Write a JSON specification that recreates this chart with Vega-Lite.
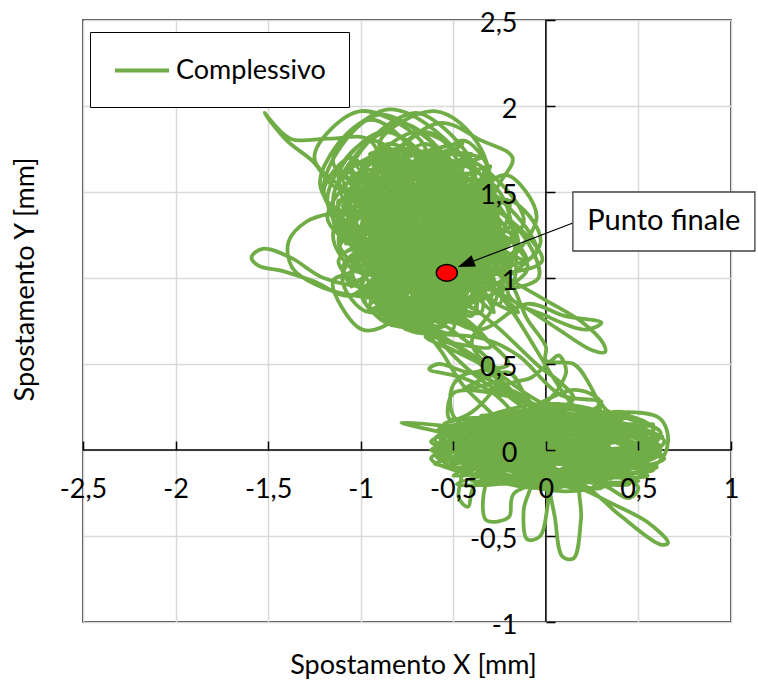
{
"$schema": "https://vega.github.io/schema/vega-lite/v6.json",
"width": 648, "height": 602,
"autosize": {"type": "none"},
"padding": {"left": 83, "top": 20, "right": 27, "bottom": 61},
"background": "white",
"config": {"font": "Lato", "view": {"stroke": "black", "strokeWidth": 1.5}},
"resolve": {"axis": {"x": "independent", "y": "independent"}},
"layer": [
{
"data": {"values": [{"x": 0, "y": -1, "x2": 0, "y2": 2.5}, {"x": -2.5, "y": 0, "x2": 1, "y2": 0}]},
"mark": {"type": "rule", "color": "black", "strokeWidth": 1.5},
"encoding": {
"x": {"field": "x", "type": "quantitative", "scale": {"domain": [-2.5, 1], "nice": false, "zero": false},
 "axis": {"orient": "bottom", "values": [-2.5, -2, -1.5, -1, -0.5, 0, 0.5, 1], "grid": true, "gridColor": "#d9d9d9", "gridWidth": 1.5, "labels": false, "ticks": false, "domain": false, "title": null, "zindex": 0}},
"y": {"field": "y", "type": "quantitative", "scale": {"domain": [-1, 2.5], "nice": false, "zero": false},
 "axis": {"orient": "left", "values": [-1, -0.5, 0, 0.5, 1, 1.5, 2, 2.5], "grid": true, "gridColor": "#d9d9d9", "gridWidth": 1.5, "labels": false, "ticks": false, "domain": false, "title": null, "zindex": 0}},
"x2": {"field": "x2"}, "y2": {"field": "y2"}
}
},
{
"data": {"values": [
{"x":0.00,"y":0.00},{"x":0.30,"y":0.00},{"x":0.00,"y":0.15},{"x":-0.30,"y":0.00},{"x":0.00,"y":-0.15},
{"x":0.55,"y":0.02},{"x":0.05,"y":0.20},{"x":-0.45,"y":0.02},{"x":0.05,"y":-0.16},
{"x":-0.15,"y":0.00},{"x":-0.30,"y":0.10},{"x":-0.45,"y":0.00},{"x":-0.30,"y":-0.10},
{"x":-0.08,"y":-0.15},{"x":-0.12,"y":-0.35},{"x":-0.10,"y":-0.52},{"x":-0.03,"y":-0.50},{"x":0.01,"y":-0.32},{"x":0.03,"y":-0.15},
{"x":0.35,"y":0.00},{"x":-0.10,"y":0.15},{"x":-0.55,"y":0.00},{"x":-0.10,"y":-0.15},
{"x":0.15,"y":0.02},{"x":0.00,"y":0.12},{"x":-0.15,"y":0.02},{"x":0.00,"y":-0.08},
{"x":0.50,"y":0.05},{"x":0.10,"y":0.24},{"x":-0.30,"y":0.05},{"x":0.10,"y":-0.14},
{"x":0.02,"y":-0.12},{"x":0.05,"y":-0.40},{"x":0.09,"y":-0.62},{"x":0.15,"y":-0.63},{"x":0.19,"y":-0.40},{"x":0.20,"y":-0.15},
{"x":0.62,"y":-0.02},{"x":0.00,"y":0.18},{"x":-0.60,"y":-0.02},{"x":0.00,"y":-0.22},
{"x":0.45,"y":0.00},{"x":0.30,"y":0.10},{"x":0.15,"y":0.00},{"x":0.30,"y":-0.10},
{"x":0.15,"y":0.05},{"x":-0.20,"y":0.17},{"x":-0.55,"y":0.05},{"x":-0.20,"y":-0.08},
{"x":-0.30,"y":-0.15},{"x":-0.34,"y":-0.30},{"x":-0.32,"y":-0.41},{"x":-0.20,"y":-0.39},{"x":-0.17,"y":-0.25},
{"x":0.55,"y":-0.05},{"x":0.20,"y":0.10},{"x":-0.15,"y":-0.05},{"x":0.20,"y":-0.20},
{"x":0.40,"y":-0.38},{"x":0.62,"y":-0.55},{"x":0.66,"y":-0.54},{"x":0.55,"y":-0.42},{"x":0.30,"y":-0.28},{"x":0.10,"y":-0.15},
{"x":0.55,"y":0.06},{"x":0.00,"y":0.22},{"x":-0.52,"y":0.05},{"x":0.00,"y":-0.12},
{"x":0.00,"y":0.10},{"x":-0.15,"y":0.18},{"x":-0.30,"y":0.10},
{"x":-0.55,"y":0.14},{"x":-0.78,"y":0.16},{"x":-0.55,"y":0.10},{"x":-0.30,"y":0.05},
{"x":0.40,"y":-0.08},{"x":0.05,"y":0.08},{"x":-0.35,"y":-0.08},{"x":0.05,"y":-0.22},
{"x":0.30,"y":-0.08},{"x":0.15,"y":0.00},{"x":0.00,"y":-0.08},{"x":0.15,"y":-0.16},
{"x":0.64,"y":0.05},{"x":0.25,"y":0.18},{"x":-0.10,"y":0.05},{"x":0.25,"y":-0.10},
{"x":0.60,"y":0.05},{"x":0.45,"y":0.15},{"x":0.30,"y":0.05},{"x":0.45,"y":-0.05},
{"x":0.62,"y":0.10},{"x":0.33,"y":0.23},{"x":0.27,"y":0.31},{"x":0.15,"y":0.35},{"x":0.00,"y":0.29},{"x":-0.15,"y":0.20},
{"x":-0.50,"y":0.00},{"x":-0.15,"y":-0.12},{"x":0.20,"y":0.02},{"x":-0.15,"y":0.12},
{"x":-0.33,"y":0.05},{"x":-0.45,"y":0.15},{"x":-0.57,"y":0.05},{"x":-0.45,"y":-0.05},
{"x":-0.47,"y":-0.28},{"x":-0.42,"y":-0.33},{"x":-0.38,"y":-0.20},
{"x":0.45,"y":0.10},{"x":0.05,"y":0.25},{"x":-0.40,"y":0.08},{"x":0.05,"y":-0.08},
{"x":-0.55,"y":0.05},{"x":0.50,"y":-0.10},{"x":-0.45,"y":0.18},{"x":0.60,"y":0.08},{"x":-0.50,"y":-0.15},{"x":0.45,"y":0.20},{"x":-0.60,"y":-0.02},{"x":0.55,"y":-0.15},
{"x":-0.35,"y":0.20},{"x":0.62,"y":0.02},{"x":-0.40,"y":-0.18},{"x":0.40,"y":0.15},{"x":-0.58,"y":0.12},{"x":0.50,"y":-0.18},{"x":-0.30,"y":-0.12},{"x":0.58,"y":0.15},
{"x":-0.52,"y":-0.08},{"x":0.35,"y":0.22},{"x":-0.62,"y":0.05},{"x":0.45,"y":-0.20},{"x":-0.25,"y":0.18},{"x":0.64,"y":-0.05},{"x":-0.48,"y":-0.20},{"x":0.52,"y":0.12},
{"x":-0.55,"y":0.15},{"x":0.30,"y":-0.20},{"x":-0.40,"y":0.05},{"x":0.60,"y":-0.10},{"x":-0.20,"y":-0.18},{"x":0.42,"y":0.22},{"x":-0.58,"y":-0.05},{"x":0.55,"y":0.05},
{"x":-0.05,"y":0.20},{"x":-0.20,"y":0.31},{"x":-0.34,"y":0.40},{"x":-0.50,"y":0.55},{"x":-0.62,"y":0.70},{"x":-0.72,"y":0.85},
{"x":-1.10,"y":1.50},{"x":-0.30,"y":1.00},{"x":-0.80,"y":1.68},{"x":-0.55,"y":0.72},{"x":-1.12,"y":1.10},{"x":-0.28,"y":1.40},{"x":-0.95,"y":0.82},{"x":-0.45,"y":1.65},
{"x":-1.05,"y":1.30},{"x":-0.35,"y":0.80},{"x":-0.65,"y":1.70},{"x":-0.80,"y":0.72},{"x":-0.25,"y":1.20},{"x":-1.00,"y":1.62},{"x":-0.60,"y":0.70},{"x":-0.30,"y":1.55},
{"x":-1.08,"y":1.20},{"x":-0.42,"y":1.68},{"x":-0.62,"y":0.75},{"x":-1.12,"y":1.45},{"x":-0.25,"y":1.10},{"x":-0.88,"y":1.70},{"x":-0.85,"y":0.75},{"x":-0.32,"y":1.45},
{"x":-1.05,"y":0.98},{"x":-0.55,"y":1.72},{"x":-0.40,"y":0.78},{"x":-1.10,"y":1.60},{"x":-0.28,"y":1.28},{"x":-0.75,"y":0.70},{"x":-0.95,"y":1.68},{"x":-0.33,"y":0.92},
{"x":-1.00,"y":1.40},{"x":-0.50,"y":0.74},{"x":-0.70,"y":1.68},{"x":-0.27,"y":1.05},{"x":-1.12,"y":1.25},{"x":-0.40,"y":1.60},{"x":-0.90,"y":0.78},{"x":-0.58,"y":1.70},
{"x":-0.30,"y":0.88},{"x":-1.08,"y":1.55},{"x":-0.68,"y":0.72},{"x":-0.26,"y":1.35},{"x":-1.02,"y":1.05},{"x":-0.48,"y":1.66},{"x":-0.82,"y":0.74},{"x":-0.36,"y":1.50},
{"x":-1.10,"y":1.35},{"x":-0.45,"y":0.76},{"x":-0.78,"y":1.70},{"x":-0.30,"y":1.15},{"x":-1.00,"y":0.90},{"x":-0.52,"y":1.68},{"x":-0.58,"y":0.72},{"x":-1.08,"y":1.48},
{"x":-0.28,"y":0.98},{"x":-0.92,"y":1.66},{"x":-0.72,"y":0.70},{"x":-0.30,"y":1.50},{"x":-1.12,"y":1.15},{"x":-0.62,"y":1.70},{"x":-0.38,"y":0.82},{"x":-1.02,"y":1.58},
{"x":-0.35,"y":1.25},{"x":-0.80,"y":1.75},{"x":-1.05,"y":1.25},{"x":-0.60,"y":0.75},
{"x":-0.80,"y":1.00},{"x":-0.95,"y":1.20},{"x":-1.10,"y":1.00},{"x":-0.95,"y":0.80},
{"x":-0.45,"y":1.32},{"x":-0.85,"y":1.78},{"x":-1.10,"y":1.30},{"x":-0.66,"y":0.86},
{"x":-0.62,"y":1.15},{"x":-0.80,"y":1.37},{"x":-0.98,"y":1.15},{"x":-0.80,"y":0.93},
{"x":-0.25,"y":1.18},{"x":-0.75,"y":1.72},{"x":-1.00,"y":1.20},{"x":-0.52,"y":0.68},
{"x":-0.50,"y":1.00},{"x":-0.65,"y":1.20},{"x":-0.80,"y":1.00},{"x":-0.65,"y":0.80},
{"x":-0.40,"y":1.40},{"x":-0.78,"y":1.90},{"x":-1.15,"y":1.45},{"x":-0.75,"y":0.95},
{"x":-0.35,"y":1.10},{"x":-0.50,"y":1.30},{"x":-0.65,"y":1.10},{"x":-0.50,"y":0.90},
{"x":-0.30,"y":1.10},{"x":-0.68,"y":1.55},{"x":-0.95,"y":1.10},{"x":-0.58,"y":0.72},
{"x":-0.50,"y":1.35},{"x":-0.85,"y":1.70},{"x":-1.18,"y":1.35},{"x":-0.82,"y":1.00},
{"x":-0.95,"y":0.95},{"x":-1.20,"y":1.00},{"x":-1.38,"y":1.12},{"x":-1.53,"y":1.17},{"x":-1.59,"y":1.12},{"x":-1.55,"y":1.07},{"x":-1.42,"y":1.04},{"x":-1.25,"y":0.98},{"x":-1.05,"y":0.90},
{"x":-0.72,"y":1.40},{"x":-0.90,"y":1.62},{"x":-1.08,"y":1.40},{"x":-0.90,"y":1.18},
{"x":-0.20,"y":1.05},{"x":-0.60,"y":1.50},{"x":-0.90,"y":1.05},{"x":-0.50,"y":0.75},
{"x":-0.57,"y":1.35},{"x":-0.72,"y":1.55},{"x":-0.87,"y":1.35},{"x":-0.72,"y":1.15},
{"x":-0.42,"y":1.50},{"x":-0.90,"y":1.95},{"x":-1.20,"y":1.50},{"x":-0.70,"y":1.05},
{"x":-0.37,"y":1.40},{"x":-0.55,"y":1.62},{"x":-0.73,"y":1.40},{"x":-0.55,"y":1.18},
{"x":-0.30,"y":1.05},{"x":0.00,"y":0.87},{"x":0.20,"y":0.74},{"x":0.31,"y":0.62},{"x":0.32,"y":0.57},{"x":0.25,"y":0.58},{"x":0.07,"y":0.70},{"x":-0.10,"y":0.82},{"x":-0.30,"y":0.95},
{"x":-0.55,"y":1.20},{"x":-0.78,"y":1.45},{"x":-1.00,"y":1.20},{"x":-0.76,"y":0.92},
{"x":-0.15,"y":1.20},{"x":-0.62,"y":1.68},{"x":-0.95,"y":1.25},{"x":-0.48,"y":0.80},
{"x":-0.65,"y":1.65},{"x":-0.85,"y":1.85},{"x":-1.05,"y":1.65},{"x":-0.85,"y":1.45},
{"x":-0.95,"y":1.80},{"x":-1.17,"y":1.81},{"x":-1.38,"y":1.81},{"x":-1.52,"y":1.96},{"x":-1.40,"y":1.80},{"x":-1.26,"y":1.68},{"x":-1.12,"y":1.52},
{"x":-0.38,"y":1.60},{"x":-0.70,"y":1.96},{"x":-1.05,"y":1.62},{"x":-0.72,"y":1.22},
{"x":-0.48,"y":1.05},{"x":-0.75,"y":1.35},{"x":-1.02,"y":1.05},{"x":-1.15,"y":0.98},{"x":-0.99,"y":0.70},{"x":-0.80,"y":0.78},
{"x":-0.47,"y":1.65},{"x":-0.65,"y":1.85},{"x":-0.83,"y":1.65},{"x":-0.65,"y":1.45},
{"x":-0.10,"y":1.10},{"x":-0.55,"y":1.60},{"x":-0.85,"y":1.15},{"x":-0.40,"y":0.72},
{"x":-0.45,"y":0.75},{"x":-0.20,"y":0.50},{"x":-0.35,"y":0.45},{"x":-0.10,"y":0.30},{"x":-0.30,"y":0.35},{"x":-0.15,"y":0.40},
{"x":-0.08,"y":0.42},{"x":0.03,"y":0.52},{"x":0.07,"y":0.55},{"x":0.11,"y":0.46},{"x":0.07,"y":0.36},{"x":0.00,"y":0.25},{"x":0.10,"y":0.12},
{"x":0.60,"y":-0.10},{"x":0.25,"y":0.02},{"x":-0.10,"y":-0.10},{"x":0.25,"y":-0.22},
{"x":0.30,"y":0.10},{"x":0.15,"y":0.18},{"x":0.00,"y":0.10},{"x":0.15,"y":0.02},
{"x":0.25,"y":-0.05},{"x":-0.10,"y":0.10},{"x":-0.45,"y":-0.05},{"x":-0.10,"y":-0.20},
{"x":0.50,"y":0.00},{"x":0.00,"y":0.16},{"x":-0.48,"y":0.00},{"x":0.00,"y":-0.17},
{"x":0.30,"y":-0.20},{"x":0.45,"y":-0.28},{"x":0.50,"y":-0.22},{"x":0.40,"y":-0.12},
{"x":0.58,"y":0.12},{"x":0.30,"y":0.22},{"x":0.00,"y":0.12},{"x":0.30,"y":0.00},
{"x":0.05,"y":0.08},{"x":-0.28,"y":0.18},{"x":-0.60,"y":0.06},{"x":-0.28,"y":-0.05},
{"x":0.00,"y":-0.10},{"x":-0.15,"y":-0.02},{"x":-0.30,"y":-0.10},{"x":-0.15,"y":-0.18},
{"x":0.62,"y":0.00},{"x":0.20,"y":0.15},{"x":-0.25,"y":0.00},{"x":0.20,"y":-0.16},
{"x":0.60,"y":-0.08},{"x":0.66,"y":0.05},{"x":0.62,"y":0.18},{"x":0.45,"y":0.22},
{"x":0.00,"y":0.14},{"x":-0.35,"y":0.03},{"x":0.00,"y":-0.08},{"x":0.35,"y":0.05},
{"x":-0.30,"y":0.10},{"x":0.25,"y":-0.15},{"x":-0.50,"y":0.00},{"x":0.35,"y":0.18},{"x":-0.15,"y":-0.20},{"x":0.62,"y":-0.02},{"x":-0.45,"y":0.15},{"x":0.15,"y":-0.10},
{"x":-0.60,"y":-0.08},{"x":0.48,"y":0.10},{"x":-0.10,"y":0.22},{"x":0.30,"y":-0.22},{"x":-0.52,"y":0.08},{"x":0.58,"y":-0.12},{"x":-0.25,"y":-0.08},{"x":0.20,"y":0.20},
{"x":-0.42,"y":-0.14},{"x":0.52,"y":0.16},{"x":-0.08,"y":-0.16},{"x":0.40,"y":-0.05},{"x":-0.56,"y":0.12},{"x":0.10,"y":0.15},{"x":-0.35,"y":-0.20},{"x":0.63,"y":0.08},
{"x":-0.20,"y":0.05},{"x":0.45,"y":-0.16},{"x":-0.62,"y":0.00},{"x":0.28,"y":0.12},
{"x":0.10,"y":0.00},{"x":-0.30,"y":-0.12},{"x":0.10,"y":-0.24},
{"x":0.55,"y":-0.12},{"x":0.40,"y":-0.04},{"x":0.25,"y":-0.12},{"x":0.40,"y":-0.20},
{"x":0.40,"y":0.15},{"x":0.00,"y":0.27},{"x":-0.40,"y":0.14},{"x":0.00,"y":0.02},
{"x":-0.30,"y":0.05},{"x":-0.50,"y":0.20},{"x":-0.50,"y":0.38},{"x":-0.40,"y":0.45},{"x":-0.20,"y":0.33},{"x":0.00,"y":0.20},
{"x":0.64,"y":-0.05},{"x":0.35,"y":0.08},{"x":0.05,"y":-0.05},{"x":0.35,"y":-0.17},
{"x":0.10,"y":-0.05},{"x":-0.25,"y":0.07},{"x":-0.62,"y":-0.05},{"x":-0.25,"y":-0.16},
{"x":0.55,"y":0.04},{"x":0.10,"y":0.18},{"x":-0.40,"y":0.04},{"x":0.10,"y":-0.12},
{"x":0.30,"y":0.10},{"x":-0.05,"y":0.20},{"x":-0.42,"y":0.10},{"x":-0.05,"y":-0.02},
{"x":-0.25,"y":0.30},{"x":-0.45,"y":0.42},{"x":-0.63,"y":0.47},{"x":-0.58,"y":0.50},{"x":-0.40,"y":0.45},{"x":-0.30,"y":0.50},{"x":-0.45,"y":0.65},{"x":-0.60,"y":0.75},
{"x":-0.79,"y":0.74},{"x":-0.48,"y":0.60},{"x":-0.19,"y":0.35},{"x":-0.02,"y":0.23},{"x":0.10,"y":0.20},{"x":-0.10,"y":0.27},{"x":-0.34,"y":0.51},{"x":-0.61,"y":0.70},
{"x":-0.70,"y":0.80},{"x":-0.45,"y":0.85},{"x":-0.29,"y":0.74},{"x":-0.03,"y":0.48},{"x":0.06,"y":0.41},{"x":0.15,"y":0.30},{"x":0.05,"y":0.25},{"x":-0.20,"y":0.40},
{"x":-0.40,"y":0.62},{"x":-0.30,"y":0.80},{"x":-0.21,"y":0.99},{"x":-0.10,"y":0.76},{"x":0.00,"y":0.60},{"x":0.00,"y":0.52},{"x":0.15,"y":0.50},{"x":0.22,"y":0.41},
{"x":0.29,"y":0.21},{"x":0.15,"y":0.18},{"x":-0.15,"y":0.30},{"x":-0.50,"y":0.33},{"x":-0.52,"y":0.18},{"x":-0.40,"y":0.22},{"x":-0.25,"y":0.45},{"x":-0.55,"y":0.60},
{"x":-0.65,"y":0.66},{"x":-0.35,"y":0.65},{"x":-0.15,"y":0.55},{"x":0.08,"y":0.32},{"x":0.30,"y":0.28},{"x":0.20,"y":0.22},
{"x":-0.25,"y":0.90},{"x":-0.45,"y":1.05},{"x":-0.65,"y":0.90},{"x":-0.45,"y":0.75},
{"x":-0.60,"y":1.55},{"x":-0.95,"y":1.92},{"x":-1.22,"y":1.55},{"x":-0.90,"y":1.18},
{"x":-0.90,"y":1.45},{"x":-1.11,"y":1.39},{"x":-1.29,"y":1.33},{"x":-1.39,"y":1.21},{"x":-1.37,"y":1.06},{"x":-1.24,"y":0.96},{"x":-1.05,"y":0.90},
{"x":-0.62,"y":0.88},{"x":-0.80,"y":1.03},{"x":-0.98,"y":0.88},{"x":-0.80,"y":0.73},
{"x":-0.03,"y":1.20},{"x":-0.20,"y":1.45},{"x":-0.40,"y":1.20},{"x":-0.20,"y":0.95},
{"x":-0.35,"y":0.95},{"x":-0.65,"y":1.25},{"x":-0.92,"y":0.90},{"x":-0.60,"y":0.70},
{"x":-0.28,"y":1.45},{"x":-0.70,"y":1.85},{"x":-1.08,"y":1.40},{"x":-0.65,"y":0.98},
{"x":-0.04,"y":1.00},{"x":-0.18,"y":1.30},{"x":-0.35,"y":1.05},{"x":-0.15,"y":0.80},
{"x":-0.85,"y":1.25},{"x":-1.00,"y":1.47},{"x":-1.15,"y":1.25},{"x":-1.00,"y":1.03},
{"x":-0.55,"y":1.30},{"x":-0.72,"y":1.52},{"x":-0.92,"y":1.28},{"x":-0.70,"y":1.05},
{"x":-0.05,"y":1.15},{"x":-0.45,"y":1.58},{"x":-0.80,"y":1.10},{"x":-0.38,"y":0.70},
{"x":-0.10,"y":0.85},{"x":0.10,"y":0.78},{"x":0.30,"y":0.74},{"x":0.22,"y":0.70},{"x":0.00,"y":0.78},{"x":-0.20,"y":0.90},
{"x":-0.17,"y":1.25},{"x":-0.35,"y":1.50},{"x":-0.53,"y":1.25},{"x":-0.35,"y":1.00},
{"x":-0.05,"y":1.35},{"x":-0.22,"y":1.60},{"x":-0.42,"y":1.35},{"x":-0.22,"y":1.10},
{"x":-0.45,"y":1.70},{"x":-0.85,"y":1.98},{"x":-1.15,"y":1.68},{"x":-0.78,"y":1.35},
{"x":-0.62,"y":0.95},{"x":-0.82,"y":1.15},{"x":-1.00,"y":0.92},{"x":-0.80,"y":0.72},
{"x":-0.30,"y":1.30},{"x":-0.62,"y":1.62},{"x":-0.90,"y":1.30},{"x":-0.60,"y":0.95},
{"x":-0.48,"y":1.22},{"x":-0.60,"y":1.37},{"x":-0.72,"y":1.22},{"x":-0.60,"y":1.07},
{"x":-0.50,"y":1.45},{"x":-0.75,"y":1.72},{"x":-1.00,"y":1.45},{"x":-0.75,"y":1.15},
{"x":-0.66,"y":1.50},{"x":-0.78,"y":1.65},{"x":-0.90,"y":1.50},{"x":-0.78,"y":1.35},
{"x":-1.05,"y":1.55},{"x":-0.35,"y":1.70},{"x":-0.95,"y":1.72},{"x":-0.30,"y":1.40},{"x":-1.00,"y":1.45},{"x":-0.50,"y":1.75},{"x":-0.85,"y":1.40},{"x":-0.25,"y":1.30},
{"x":-0.75,"y":1.75},{"x":-1.08,"y":1.60},{"x":-0.40,"y":1.45},{"x":-0.90,"y":1.75},{"x":-0.60,"y":1.40},{"x":-0.30,"y":1.65},{"x":-1.00,"y":1.35},{"x":-0.65,"y":1.78},
{"x":-0.22,"y":1.15},{"x":-0.45,"y":1.60},{"x":-0.70,"y":1.50},{"x":-0.25,"y":0.95},{"x":-0.50,"y":1.30},{"x":-0.20,"y":1.45},{"x":-0.40,"y":0.85},{"x":-0.30,"y":1.25},
{"x":-0.55,"y":1.55},{"x":-0.22,"y":1.05},{"x":-0.45,"y":1.20},{"x":-0.28,"y":0.80},{"x":-0.60,"y":1.25},{"x":-0.18,"y":1.25},{"x":-0.42,"y":1.00},{"x":-0.35,"y":1.65},
{"x":-0.85,"y":1.55},{"x":-0.40,"y":1.72},{"x":-1.02,"y":1.65},{"x":-0.55,"y":1.45},{"x":-0.95,"y":1.60},{"x":-0.45,"y":1.78},{"x":-0.78,"y":1.55},{"x":-0.30,"y":1.55},
{"x":-0.70,"y":1.60},{"x":-1.10,"y":1.42},{"x":-0.62,"y":1.70},{"x":-0.25,"y":1.50},
{"x":-0.18,"y":0.98},{"x":-0.45,"y":1.25},{"x":-0.72,"y":0.95},{"x":-0.42,"y":0.75},
{"x":-0.30,"y":0.60},{"x":-0.55,"y":0.62},{"x":-0.25,"y":0.42},{"x":-0.45,"y":0.35},{"x":-0.20,"y":0.45},{"x":-0.10,"y":0.30},{"x":0.05,"y":0.15},
{"x":0.50,"y":0.10},{"x":0.10,"y":0.20},{"x":-0.35,"y":0.12},{"x":0.05,"y":-0.05},
{"x":0.58,"y":-0.02},{"x":0.20,"y":0.12},{"x":-0.20,"y":0.00},{"x":0.20,"y":-0.14},
{"x":0.35,"y":0.15},{"x":0.00,"y":0.24},{"x":-0.50,"y":0.10},{"x":-0.10,"y":-0.06},
{"x":0.45,"y":-0.06},{"x":0.10,"y":0.06},{"x":-0.30,"y":-0.04},{"x":0.05,"y":-0.18},
{"x":-0.15,"y":0.05},{"x":-0.30,"y":0.22},{"x":-0.45,"y":0.38},{"x":-0.55,"y":0.55},{"x":-0.65,"y":0.72},
{"x":-0.70,"y":1.20},{"x":-0.30,"y":1.60},{"x":-1.05,"y":0.95},{"x":-0.50,"y":1.45},{"x":-0.90,"y":1.55},{"x":-0.40,"y":0.90},{"x":-0.85,"y":1.00},{"x":-0.60,"y":1.60},
{"x":-1.10,"y":1.30},{"x":-0.35,"y":1.25},{"x":-0.75,"y":0.80},{"x":-0.95,"y":1.45},{"x":-0.45,"y":1.05},{"x":-0.80,"y":1.65},{"x":-0.55,"y":0.85},{"x":-1.05,"y":1.20},
{"x":-0.40,"y":1.40},{"x":-0.65,"y":0.72},{"x":-1.00,"y":1.50},{"x":-0.30,"y":1.10},{"x":-0.85,"y":0.85},{"x":-0.55,"y":1.68},{"x":-0.70,"y":0.95},{"x":-1.08,"y":1.40},
{"x":-0.35,"y":1.00},{"x":-0.75,"y":1.60},{"x":-0.92,"y":0.95},{"x":-0.45,"y":1.55},{"x":-0.62,"y":0.80},{"x":-1.00,"y":1.15},{"x":-0.32,"y":1.30},{"x":-0.85,"y":1.62},
{"x":-0.50,"y":0.78},{"x":-1.10,"y":1.05},{"x":-0.40,"y":1.50},{"x":-0.95,"y":0.80},{"x":-0.65,"y":1.55},{"x":-0.28,"y":0.95},{"x":-0.90,"y":1.25},{"x":-0.55,"y":1.62},
{"x":-0.75,"y":0.75},{"x":-1.05,"y":1.45},{"x":-0.35,"y":1.15},{"x":-0.70,"y":1.70},{"x":-0.60,"y":0.90},{"x":-1.08,"y":1.00},{"x":-0.45,"y":1.35},{"x":-0.82,"y":1.52},
{"x":-0.65,"y":1.75},{"x":-1.00,"y":1.97},{"x":-1.25,"y":1.70},{"x":-0.95,"y":1.40},
{"x":-0.55,"y":0.82},{"x":-0.70,"y":0.94},{"x":-0.85,"y":0.82},{"x":-0.70,"y":0.70},
{"x":-0.40,"y":1.15},{"x":-0.70,"y":1.42},{"x":-0.98,"y":1.15},{"x":-0.68,"y":0.85},
{"x":-0.25,"y":1.55},{"x":-0.18,"y":1.70},{"x":-0.35,"y":1.80},{"x":-0.58,"y":1.90},{"x":-0.92,"y":1.55},{"x":-0.58,"y":1.20},
{"x":-0.90,"y":1.50},{"x":-1.05,"y":1.70},{"x":-1.20,"y":1.50},{"x":-1.05,"y":1.30},
{"x":-0.70,"y":1.25},{"x":-0.90,"y":1.45},{"x":-1.12,"y":1.22},{"x":-0.90,"y":1.00},
{"x":-0.12,"y":1.32},{"x":-0.50,"y":1.72},{"x":-0.85,"y":1.30},{"x":-0.45,"y":0.92},
{"x":-0.30,"y":1.60},{"x":-0.45,"y":1.80},{"x":-0.60,"y":1.60},{"x":-0.45,"y":1.40},
{"x":-0.55,"y":1.05},{"x":-0.80,"y":1.30},{"x":-1.05,"y":1.05},{"x":-0.78,"y":0.78},
{"x":-0.10,"y":1.05},{"x":-0.25,"y":1.25},{"x":-0.40,"y":1.05},{"x":-0.25,"y":0.85},
{"x":-0.35,"y":1.75},{"x":-0.60,"y":1.97},{"x":-0.90,"y":1.78},{"x":-0.62,"y":1.50},
{"x":-0.45,"y":0.88},{"x":-0.68,"y":1.10},{"x":-0.90,"y":0.85},{"x":-0.65,"y":0.68},
{"x":-0.22,"y":1.22},{"x":-0.58,"y":1.52},{"x":-0.88,"y":1.18},{"x":-0.55,"y":0.88},
{"x":-0.78,"y":1.10},{"x":-0.90,"y":1.25},{"x":-1.02,"y":1.10},{"x":-0.90,"y":0.95},
{"x":-0.60,"y":1.60},{"x":-0.88,"y":1.85},{"x":-1.12,"y":1.58},{"x":-0.85,"y":1.30},
{"x":-0.30,"y":1.02},{"x":-0.55,"y":1.28},{"x":-0.80,"y":1.00},{"x":-0.55,"y":0.75},
{"x":-0.45,"y":1.38},{"x":-0.80,"y":1.65},{"x":-1.15,"y":1.35},{"x":-0.80,"y":1.05},
{"x":-0.02,"y":1.10},{"x":-0.40,"y":1.45},{"x":-0.75,"y":1.10},{"x":-0.38,"y":0.80},
{"x":-0.60,"y":1.45},{"x":-0.95,"y":1.80},{"x":-1.18,"y":1.45},{"x":-0.90,"y":1.10},
{"x":-0.35,"y":1.20},{"x":-0.55,"y":1.40},{"x":-0.75,"y":1.20},{"x":-0.55,"y":0.98},
{"x":-0.45,"y":1.05},{"x":-0.535,"y":1.03}
]},
"mark": {"type": "line", "interpolate": "catmull-rom", "strokeWidth": 3.8, "strokeCap": "round", "strokeJoin": "round"},
"encoding": {
"x": {"field": "x", "type": "quantitative", "scale": {"domain": [-2.5, 1], "nice": false, "zero": false},
 "axis": {"orient": "bottom", "offset": -172, "values": [-2.5, -2, -1.5, -1, -0.5, 0, 0.5, 1], "labelExpr": "replace(toString(datum.value), '.', ',')", "grid": false, "domain": false, "ticks": true, "tickColor": "black", "tickWidth": 1.5, "tickSize": -9, "labelPadding": 35, "labelFontSize": 27, "labelColor": "black", "labelFlush": false, "labelOverlap": false, "labelBound": false, "title": "Spostamento X [mm]", "titleFontSize": 27, "titleFontWeight": "normal", "titleColor": "black", "titleX": 330, "titleY": 223, "titleBaseline": "alphabetic", "zindex": 1}},
"y": {"field": "y", "type": "quantitative", "scale": {"domain": [-1, 2.5], "nice": false, "zero": false},
 "axis": {"orient": "left", "offset": -463, "values": [-1, -0.5, 0, 0.5, 1, 1.5, 2, 2.5], "labelExpr": "replace(toString(datum.value), '.', ',')", "grid": false, "domain": false, "ticks": true, "tickColor": "black", "tickWidth": 1.5, "tickSize": -9, "labelPadding": 38, "labelOffset": 3, "labelFontSize": 27, "labelColor": "black", "labelFlush": false, "labelOverlap": false, "labelBound": false, "title": "Spostamento Y [mm]", "titleFontSize": 27, "titleFontWeight": "normal", "titleColor": "black", "titleAngle": -90, "titleX": -513, "titleY": 259, "titleBaseline": "alphabetic", "titleAlign": "center", "zindex": 1}},
"order": {"value": null},
"color": {"datum": "Complessivo", "type": "nominal", "scale": {"range": ["#70AD47"]},
 "legend": {"orient": "none", "legendX": 7, "legendY": 12, "title": null, "strokeColor": "black", "fillColor": "white", "padding": 23, "symbolType": "M-1,0L3,0", "symbolSize": 729, "symbolStrokeWidth": 3.8, "symbolStrokeColor": "#70AD47", "symbolFillColor": "transparent", "labelFontSize": 27, "labelColor": "black", "labelOffset": 32, "labelFont": "Lato"}}
}
},
{
"data": {"values": [{"x": -0.535, "y": 1.03}]},
"mark": {"type": "point", "shape": "M-1,0A1,0.8,0,1,0,1,0A1,0.8,0,1,0,-1,0Z", "size": 441, "filled": true, "fill": "#FF0000", "stroke": "black", "strokeWidth": 1.5, "opacity": 1},
"encoding": {
"x": {"field": "x", "type": "quantitative", "axis": null},
"y": {"field": "y", "type": "quantitative", "axis": null}
}
},
{
"data": {"values": [{"x": 0.146, "y": 1.32, "x2": -0.45, "y2": 1.074}]},
"mark": {"type": "rule", "color": "black", "strokeWidth": 1.2},
"encoding": {
"x": {"field": "x", "type": "quantitative", "axis": null},
"y": {"field": "y", "type": "quantitative", "axis": null},
"x2": {"field": "x2"}, "y2": {"field": "y2"}
}
},
{
"data": {"values": [{"x": -0.4753, "y": 1.064}]},
"mark": {"type": "point", "shape": "M0,0L0.35,1L-0.35,1Z", "size": 1156, "filled": true, "color": "black", "angle": 249, "opacity": 1},
"encoding": {
"x": {"field": "x", "type": "quantitative", "axis": null},
"y": {"field": "y", "type": "quantitative", "axis": null}
}
},
{
"data": {"values": [{"x": 0.146, "x2": 1.129, "y": 1.5, "y2": 1.157}]},
"mark": {"type": "rect", "fill": "white", "stroke": "#404040", "strokeWidth": 1.3},
"encoding": {
"x": {"field": "x", "type": "quantitative", "axis": null},
"y": {"field": "y", "type": "quantitative", "axis": null},
"x2": {"field": "x2"}, "y2": {"field": "y2"}
}
},
{
"data": {"values": [{"x": 0.637, "y": 1.3285, "label": "Punto finale"}]},
"mark": {"type": "text", "fontSize": 29, "color": "black", "align": "center", "baseline": "middle"},
"encoding": {
"x": {"field": "x", "type": "quantitative", "axis": null},
"y": {"field": "y", "type": "quantitative", "axis": null},
"text": {"field": "label"}
}
}
]
}
